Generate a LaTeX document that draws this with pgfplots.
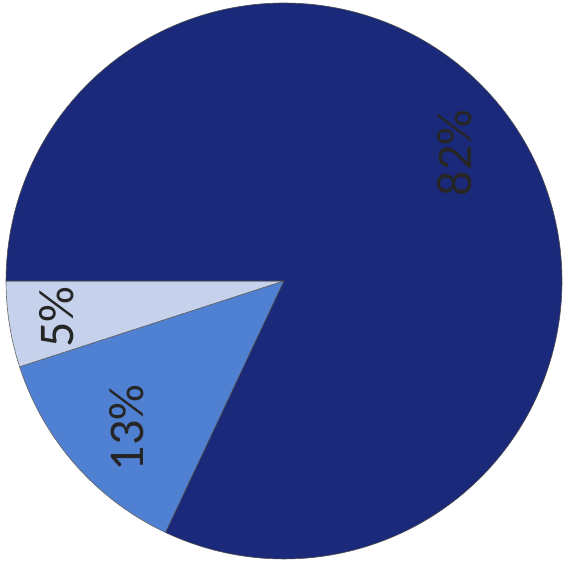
\documentclass[border=0pt]{standalone}
\usepackage{pgfplots}
\pgfplotsset{compat=1.18}
\usepackage{pgfplotstable}
\usepackage{fontspec}
\setmainfont{Carlito}
\definecolor{cdark}{RGB}{27,41,122}
\definecolor{cmid}{RGB}{80,128,210}
\definecolor{clight}{RGB}{198,210,236}
\pgfplotstableread{
label value
5 5
13 13
82 82
}\piedata
\begin{document}
\begin{tikzpicture}
\pgfplotstablegetelem{0}{value}\of\piedata \let\va\pgfplotsretval
\pgfplotstablegetelem{1}{value}\of\piedata \let\vb\pgfplotsretval
\pgfplotstablegetelem{2}{value}\of\piedata \let\vc\pgfplotsretval
\pgfmathsetmacro\aS{180}
\pgfmathsetmacro\aA{\aS+3.6*\va}
\pgfmathsetmacro\aB{\aA+3.6*\vb}
\pgfmathsetmacro\aC{\aB+3.6*\vc}
\begin{axis}[scale only axis, width=563pt, height=567pt, hide axis,
  xmin=-1.0216, xmax=1.0036, ymin=-1.0288, ymax=1.0108, clip=false]
\path (rel axis cs:0,0) rectangle (rel axis cs:1,1);
\addplot[fill=clight, draw=black!60, line width=0.6pt, domain=\aS:\aA, samples=30] ({cos(x)},{sin(x)}) -- (axis cs:0,0) -- cycle;
\addplot[fill=cmid, draw=black!60, line width=0.6pt, domain=\aA:\aB, samples=60] ({cos(x)},{sin(x)}) -- (axis cs:0,0) -- cycle;
\addplot[fill=cdark, draw=black!70, line width=0.6pt, domain=\aB:\aC, samples=200] ({cos(x)},{sin(x)}) -- (axis cs:0,0) -- cycle;
\node[rotate=90, font=\fontsize{50}{60}\selectfont, text=black!85] at (axis cs:0.615,0.460) {82\%};
\node[rotate=90, font=\fontsize{50}{60}\selectfont, text=black!85] at (axis cs:-0.565,-0.529) {13\%};
\node[rotate=90, font=\fontsize{50}{60}\selectfont, text=black!85] at (axis cs:-0.817,-0.129) {5\%};
\end{axis}
\end{tikzpicture}
\end{document}
